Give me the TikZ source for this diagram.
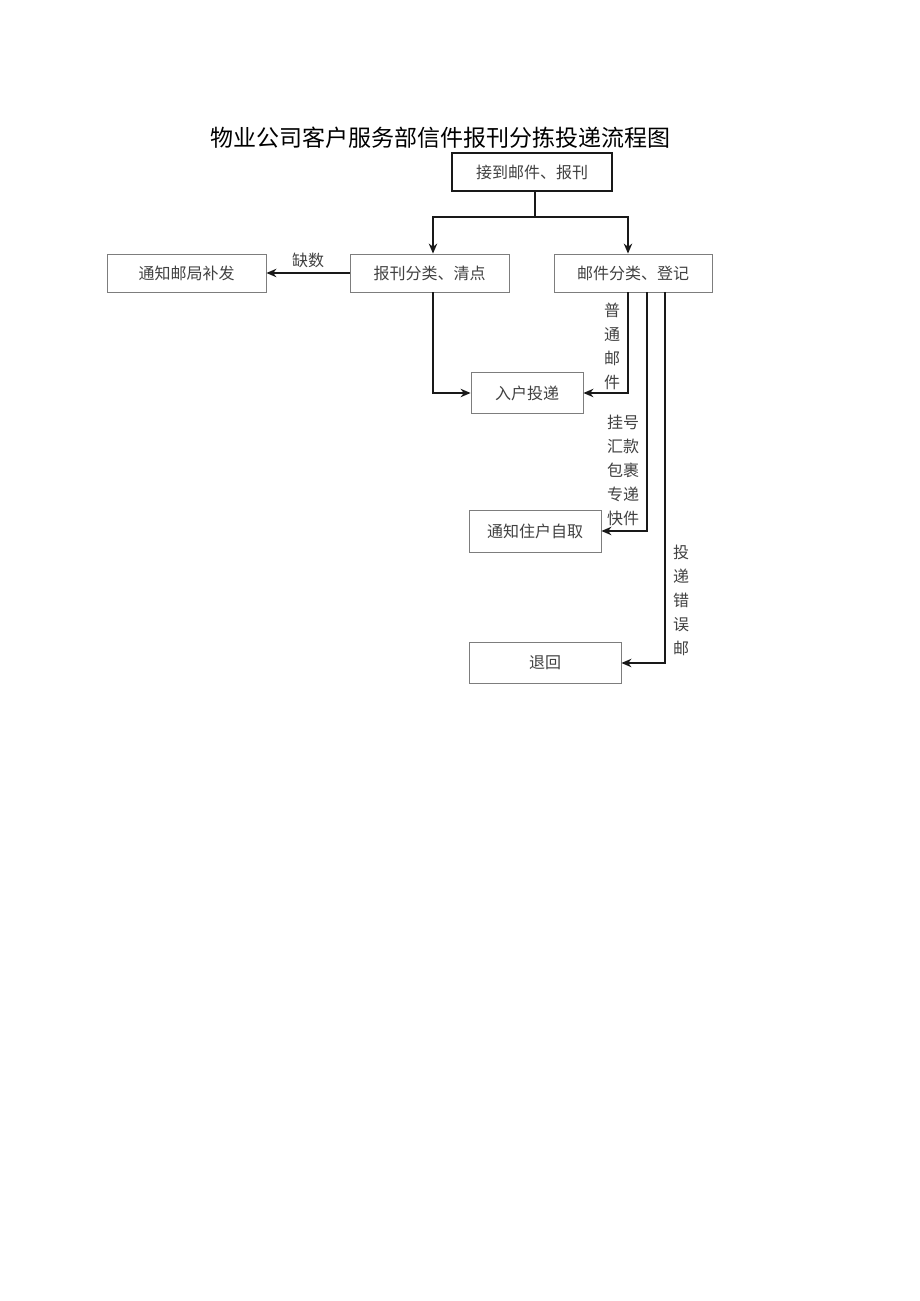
\documentclass[tikz,border=0pt]{standalone}
\usepackage{xcolor}
\usepackage{fontspec}
\usepackage{tikz}
\usetikzlibrary{arrows.meta, positioning, calc}
\newfontfamily\cjk{Noto Sans CJK SC}
\definecolor{mydark}{RGB}{25,25,25}
\definecolor{mygray}{RGB}{125,125,125}
\definecolor{mytext}{RGB}{65,65,65}
\tikzset{
  box/.style={rectangle, draw=mygray, fill=white,
    align=center, inner sep=0pt, text=mytext,
    font=\cjk\fontsize{16}{16}\selectfont, line width=0.9pt},
  topbox/.style={box, draw=mydark, line width=1.1pt},
  vlabel/.style={align=center, inner sep=0pt, text=mytext,
    font=\cjk\fontsize{16}{24}\selectfont},
  arrow/.style={-{Stealth[length=10pt, width=8.5pt]}, line width=1.3pt, color=mydark},
  line/.style={line width=1.3pt, color=mydark}
}
\begin{document}
\begin{tikzpicture}[x=1pt, y=-1pt]
  \useasboundingbox (0,0) rectangle (920,1301);

  % Title
  \node[font=\cjk\fontsize{23}{23}\selectfont] (title) at (440,138) {物业公司客户服务部信件报刊分拣投递流程图};

  % Boxes
  \node[topbox, minimum width=160pt, minimum height=38pt] (recv) at (532,172) {接到邮件、报刊};
  \node[box, minimum width=159pt, minimum height=38pt] (notify) at (186.5,273) {通知邮局补发};
  \node[box, minimum width=159pt, minimum height=38pt] (sortp) at (429.5,273) {报刊分类、清点};
  \node[box, minimum width=158pt, minimum height=38pt] (sortm) at (633,273) {邮件分类、登记};
  \node[box, minimum width=112pt, minimum height=41pt] (home) at (527,393) {入户投递};
  \node[box, minimum width=132pt, minimum height=42pt] (self) at (535,531) {通知住户自取};
  \node[box, minimum width=152pt, minimum height=41pt] (back) at (545,663) {退回};

  % Branch from the first box
  \coordinate (split) at (535,217);
  \draw[line] ([xshift=3pt]recv.south) -- (split);
  \draw[arrow] (split) -| ([xshift=3.5pt]sortp.north);
  \draw[arrow] (split) -| ([xshift=-5pt]sortm.north);

  % Newspapers
  \draw[arrow] (sortp.west) -- (notify.east) node[midway, above=1pt, text=mytext, font=\cjk\fontsize{16}{16}\selectfont] (short) {缺数};
  \draw[arrow] ([xshift=3.5pt]sortp.south) |- (home.west);

  % Mail
  \draw[arrow] ([xshift=-5pt]sortm.south) |- (home.east);
  \draw[arrow] ([xshift=14pt]sortm.south) |- (self.east);
  \draw[arrow] ([xshift=32pt]sortm.south) |- (back.east);

  % Labels beside the mail lines
  \node[vlabel] (lnormal) at (612,346) {普\\通\\邮\\件};
  \node[vlabel] (lreg) at (623,470) {挂号\\汇款\\包裹\\专递\\快件};
  \node[vlabel] (lwrong) at (681,600) {投\\递\\错\\误\\邮};
\end{tikzpicture}
\end{document}
